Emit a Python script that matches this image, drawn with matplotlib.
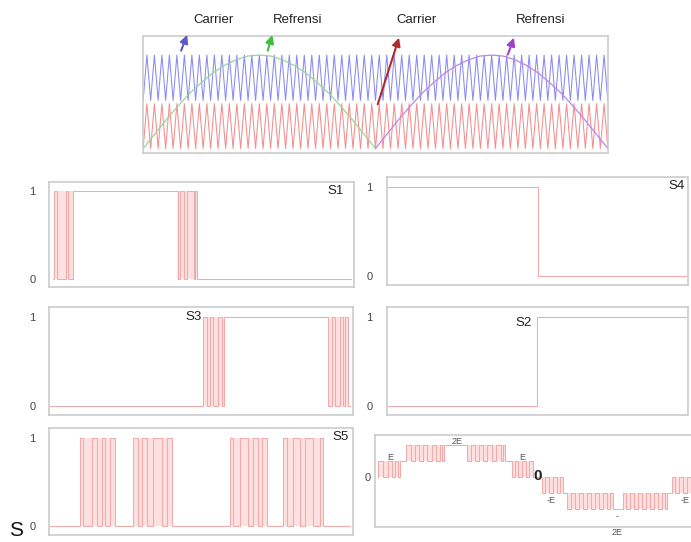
import matplotlib.pyplot as plt
import numpy as np

plt.rcParams['font.family'] = ['Liberation Sans', 'DejaVu Sans']

# --- top panel: carriers and references (time in ms, one 20 ms cycle) ---
carrier_periods = 62
blue_band = (0.03, 1.0)
red_band = (-1.0, -0.04)
ref_t = [0, 0.5, 1, 1.5, 2, 2.5, 3, 3.5, 4, 4.5, 5, 5.5, 6, 6.5, 7, 7.5, 8, 8.5, 9, 9.5, 10]
ref_v = [-1.0, -0.69, -0.38, -0.09, 0.18, 0.41, 0.62, 0.78, 0.90, 0.98, 1.0,
         0.98, 0.90, 0.78, 0.62, 0.41, 0.18, -0.09, -0.38, -0.69, -1.0]
green_t0 = 0
purple_t0 = 10

# --- switch signals (time in px-like units along each panel) ---
s1_span, s1_init = (4, 302), 0
s1_edges = [5, 8, 17, 19, 23.5, 128.5, 131, 135, 137.5, 145, 146, 147.5]
s1_bursts = [(5, 24), (128, 147.5)]

s4_span, s4_init = (1.3, 299.5), 1
s4_edges = [151.5]
s4_bursts = []

s3_span, s3_init = (1, 301), 0
s3_edges = [154, 158, 160.7, 164, 169, 172.4, 174.7, 279, 282.4, 285.7, 290.7, 294, 296, 299]
s3_bursts = [(154, 175), (279, 299)]

s2_span, s2_init = (1, 299.5), 0
s2_edges = [150]
s2_bursts = []

s5_span, s5_init = (1, 301), 0
s5_edges = [30.7, 34, 42.4, 47.4, 52.4, 55.7, 60.7, 65.7,
            84, 89, 92.4, 97.4, 104, 112.4, 117.4, 122.4,
            180.7, 184, 190.7, 199, 204, 209, 212.4, 217.4,
            234, 237.4, 244, 250.7, 255.7, 264, 270.7, 274]
s5_bursts = [(30.7, 65.7), (84, 122.4), (180.7, 217.4), (234, 274)]

# --- output voltage (levels in units of E) ---
out_span, out_init = (3, 319), 0
out_edges = [3.3, 8.3, 13.3, 16.7, 20, 23.3, 25,
             31, 35.7, 40, 44.3, 48.3, 52.3, 56.7, 61, 65, 67, 69,
             91.7, 95.7, 100, 104.3, 108.3, 112.3, 116.7, 121, 125.7, 128, 130,
             136.7, 140, 143.3, 147, 151, 154, 158,
             166.7, 170, 174, 178, 182, 185, 188.3,
             192, 196, 200, 204, 208, 212, 216, 220, 224, 228, 232, 235, 238,
             248, 251, 255, 259, 263, 267, 271, 275, 279, 283, 287, 290, 292,
             296.7, 300, 304, 308, 312, 316]
out_levels = [1, 0, 1, 0, 1, 0, 1,
              2, 1, 2, 1, 2, 1, 2, 1, 2, 1, 2,
              1, 2, 1, 2, 1, 2, 1, 2, 1, 2, 1,
              0, 1, 0, 1, 0, 1, 0,
              -1, 0, -1, 0, -1, 0, -1,
              -2, -1, -2, -1, -2, -1, -2, -1, -2, -1, -2, -1, -2,
              -1, -2, -1, -2, -1, -2, -1, -2, -1, -2, -1, -2, -1,
              0, -1, 0, -1, 0, -1]
out_bursts = [(3.3, 25, 0, 1), (31, 69, 1, 2), (91.7, 130, 1, 2), (136.7, 158, 0, 1),
              (166.7, 188.3, -1, 0), (192, 238, -2, -1), (248, 292, -2, -1), (296.7, 319, -1, 0)]
out_labels = [(15, 1.25, 'E'), (82, 2.19, '2E'), (147, 1.19, 'E'), (176, -1.44, '-E'),
              (242, -2.5, '-'), (242, -3.44, '2E'), (310, -1.44, '-E')]

LINE = '#f2abab'
FILL = '#fde0e0'
FRAME = '#cccccc'


def step_xy(span, init, edges, levels):
    xs, ys = [span[0]], [init]
    cur = init
    for t, v in zip(edges, levels):
        xs += [t, t]
        ys += [cur, v]
        cur = v
    xs.append(span[1])
    ys.append(cur)
    return xs, ys


def toggles(init, edges):
    out, cur = [], init
    for _ in edges:
        cur = 1 - cur
        out.append(cur)
    return out


def frame(ax):
    for s in ax.spines.values():
        s.set_color(FRAME)
        s.set_linewidth(1.2)


fig = plt.figure(figsize=(6.91, 5.42), dpi=100)

# top panel
ax = fig.add_axes([0.2065, 0.7183, 0.6738, 0.2153])
frame(ax)
ax.set_xticks([])
ax.set_yticks([])
ct = np.linspace(0, 20, 2 * carrier_periods + 1)
for lo, hi, col in [(blue_band[0], blue_band[1], '#8a8af2'), (red_band[0], red_band[1], '#f38e8e')]:
    cv = np.where(np.arange(ct.size) % 2 == 0, lo, hi)
    ax.plot(ct, cv, color=col, lw=0.75)
ax.plot(np.array(ref_t) + green_t0, ref_v, color='#9ad49a', lw=0.9)
ax.plot(np.array(ref_t) + purple_t0, ref_v, color='#bd85ea', lw=0.9)
ax.set_xlim(-0.02, 20.02)
ax.set_ylim(-1.09, 1.41)
arrows = [((1.59, 1.04), (1.94, 1.49), '#5a5ac8'),
          ((5.33, 1.04), (5.59, 1.49), '#3cc03c'),
          ((10.06, -0.11), (11.05, 1.43), '#b02a2a'),
          ((15.66, 0.96), (16.0, 1.43), '#a040d0')]
for tail, head, col in arrows:
    ax.annotate('', xy=head, xytext=tail, annotation_clip=False,
                arrowprops=dict(arrowstyle='-|>', color=col, lw=1.5, mutation_scale=12))
for x, s in [(3.01, 'Carrier'), (6.67, 'Refrensi'), (11.78, 'Carrier'), (17.12, 'Refrensi')]:
    ax.text(x, 1.75, s, ha='center', va='center', fontsize=9.5, color='#222', clip_on=False)

# switch panels
panels = [
    ([0.0713, 0.4699, 0.441, 0.1948], 304.7, s1_span, s1_init, s1_edges, s1_bursts, 'S1', 294, 1.0),
    ([0.5596, 0.4742, 0.436, 0.1987], 301.3, s4_span, s4_init, s4_edges, s4_bursts, 'S4', 298.3, 1.01),
    ([0.0713, 0.2343, 0.4391, 0.1987], 303.4, s3_span, s3_init, s3_edges, s3_bursts, 'S3', 152.4, 1.0),
    ([0.5596, 0.2343, 0.436, 0.1987], 301.3, s2_span, s2_init, s2_edges, s2_bursts, 'S2', 145, 0.935),
    ([0.0713, 0.0129, 0.4391, 0.1969], 303.4, s5_span, s5_init, s5_edges, s5_bursts, 'S5', 299, 1.01),
]
for rect, width, span, init, edges, bursts, name, lx, ly in panels:
    ax = fig.add_axes(rect)
    frame(ax)
    for a, b in bursts:
        ax.fill_between([a, b], 0, 1, color=FILL, lw=0)
    xs, ys = step_xy(span, init, edges, toggles(init, edges))
    ax.plot(xs, ys, color=LINE, lw=0.75)
    ax.set_xlim(0, width)
    ax.set_ylim(-0.1, 1.11)
    ax.set_xticks([])
    ax.set_yticks([0, 1])
    ax.set_yticklabels(['0', '1'])
    ax.tick_params(axis='y', length=0, pad=10, labelsize=8, labelcolor='#444')
    ax.text(lx, ly, name, ha='right', va='center', fontsize=9.5, color='#222')

# output panel
ax = fig.add_axes([0.5427, 0.0271, 0.4617, 0.1703])
frame(ax)
for a, b, lo, hi in out_bursts:
    ax.fill_between([a, b], lo, hi, color=FILL, lw=0)
xs, ys = step_xy(out_span, out_init, out_edges, out_levels)
ax.plot(xs, ys, color=LINE, lw=0.75)
ax.set_xlim(0, 319)
ax.set_ylim(-3.14, 2.625)
ax.set_xticks([])
ax.set_yticks([0])
ax.set_yticklabels(['0'])
ax.tick_params(axis='y', length=0, pad=3, labelsize=8, labelcolor='#444')
for x, y, s in out_labels:
    ax.text(x, y, s, ha='center', va='center', fontsize=6.5, color='#555', clip_on=False)
ax.text(163, 0.06, '0', ha='center', va='center', fontsize=11, fontweight='bold', color='#222')

fig.text(16 / 691, 1 - 530 / 542, 'S', ha='center', va='center', fontsize=15, color='#111')

fig.savefig('out.png', dpi=100)
